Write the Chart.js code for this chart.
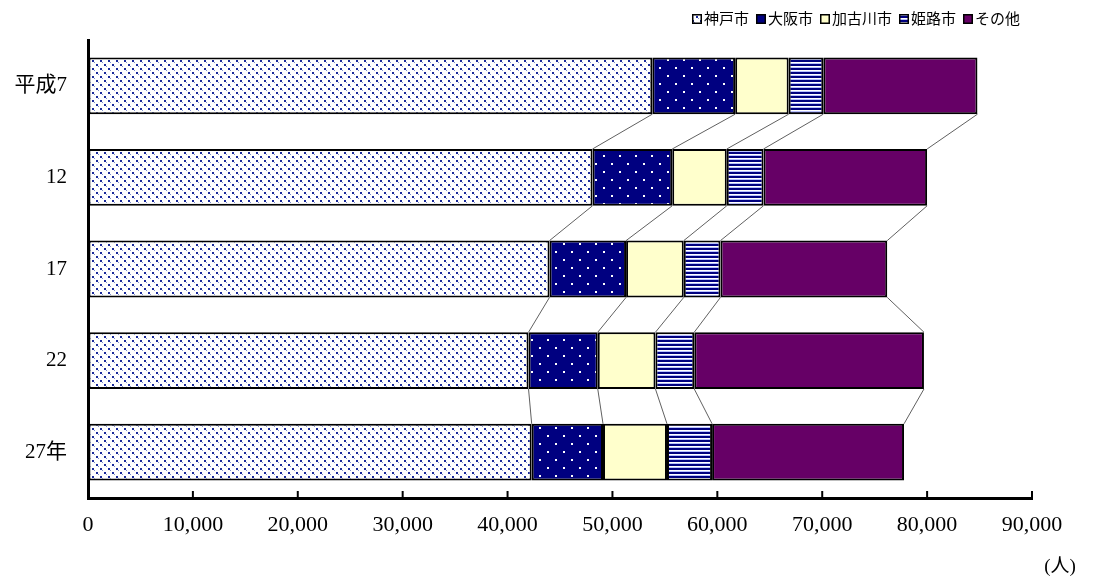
<!DOCTYPE html>
<html>
<head>
<meta charset="utf-8">
<script src="https://cdn.jsdelivr.net/npm/chart.js@4/dist/chart.umd.min.js"></script>
<style>
html,body{margin:0;padding:0;background:#fff;}
#wrap{width:1098px;height:583px;position:relative;}
</style>
</head>
<body>
<div id="wrap"><canvas id="c" width="1098" height="583"></canvas></div>
<script>
const categories = ['平成7', '12', '17', '22', '27年'];
const seriesNames = ['神戸市', '大阪市', '加古川市', '姫路市', 'その他'];
const kobe     = [53800, 48100, 44000, 42000, 42300];
const osaka    = [7900, 7600, 7300, 6600, 6800];
const kakogawa = [5100, 5200, 5500, 5500, 6100];
const himeji   = [3300, 3500, 3500, 3700, 4300];
const other    = [14700, 15600, 15900, 21900, 18300];
const xTicks   = [0, 10000, 20000, 30000, 40000, 50000, 60000, 70000, 80000, 90000];
const unitLabel = '(人)';

const FONT = "'Liberation Serif', 'Noto Sans CJK JP', serif";

function makePattern(w, h, draw) {
  const c = document.createElement('canvas');
  c.width = w; c.height = h;
  const g = c.getContext('2d');
  draw(g, w, h);
  return g.createPattern(c, 'repeat');
}
const patKobe = makePattern(8, 8, (g) => {
  g.fillStyle = '#ffffff'; g.fillRect(0, 0, 8, 8);
  g.fillStyle = '#1a2a9a';
  g.fillRect(0, 0, 2, 2); g.fillRect(4, 4, 2, 2);
  g.fillStyle = '#8090d0';
  g.fillRect(2, 2, 1, 1); g.fillRect(6, 6, 1, 1);
});
const patOsaka = makePattern(16, 16, (g) => {
  g.fillStyle = '#000080'; g.fillRect(0, 0, 16, 16);
  g.fillStyle = '#ffffff';
  g.fillRect(3, 3, 2, 2); g.fillRect(11, 11, 2, 2);
});
const patHimeji = makePattern(4, 4, (g) => {
  g.fillStyle = '#ffffff'; g.fillRect(0, 0, 4, 4);
  g.fillStyle = '#000080'; g.fillRect(0, 0, 4, 2);
  g.fillStyle = '#b8c0ff'; g.fillRect(0, 3, 4, 1);
});
const fills = [patKobe, patOsaka, '#ffffcc', patHimeji, '#660066'];
const seriesData = [kobe, osaka, kakogawa, himeji, other];

const datasets = seriesNames.map((name, i) => ({
  label: name,
  data: seriesData[i],
  backgroundColor: fills[i],
  borderColor: '#000000',
  borderWidth: 2,
  borderSkipped: false,
  barPercentage: 0.62,
  categoryPercentage: 1.0
}));

const extras = {
  id: 'extras',
  beforeDatasetsDraw(chart) {
    const ctx = chart.ctx;
    const xs = chart.scales.x;
    const metas = datasets.map((d, i) => chart.getDatasetMeta(i));
    ctx.save();
    ctx.strokeStyle = '#606060';
    ctx.lineWidth = 1;
    for (let r = 0; r < categories.length - 1; r++) {
      let cumA = 0, cumB = 0;
      for (let s = 0; s < seriesData.length; s++) {
        cumA += seriesData[s][r];
        cumB += seriesData[s][r + 1];
        const elA = metas[s].data[r];
        const elB = metas[s].data[r + 1];
        const yA = elA.y + elA.height / 2;
        const yB = elB.y - elB.height / 2;
        ctx.beginPath();
        ctx.moveTo(xs.getPixelForValue(cumA), yA);
        ctx.lineTo(xs.getPixelForValue(cumB), yB);
        ctx.stroke();
      }
    }
    ctx.restore();
  },
  afterDraw(chart) {
    const ctx = chart.ctx;
    const xs = chart.scales.x;
    const area = chart.chartArea;
    ctx.save();
    ctx.strokeStyle = '#000';
    ctx.lineWidth = 2;
    xs.ticks.forEach((t, i) => {
      if (i === 0) return;
      const px = xs.getPixelForTick(i);
      ctx.beginPath();
      ctx.moveTo(px, area.bottom);
      ctx.lineTo(px, area.bottom - 7);
      ctx.stroke();
    });
    ctx.fillStyle = '#000';
    ctx.font = "19px " + FONT;
    ctx.textAlign = 'center';
    ctx.textBaseline = 'middle';
    ctx.fillText(unitLabel, area.right + 28, 567);
    // legend
    ctx.font = "15px " + FONT;
    const box = 10, gapBT = 2, gapItem = 7;
    const widths = seriesNames.map(n => ctx.measureText(n).width);
    let total = 0;
    widths.forEach((w, i) => { total += box + gapBT + w + (i < widths.length - 1 ? gapItem : 0); });
    let x = 1020 - total;
    const yc = 19;
    ctx.textAlign = 'left';
    seriesNames.forEach((n, i) => {
      ctx.fillStyle = fills[i];
      ctx.fillRect(x, yc - box / 2, box, box);
      ctx.strokeStyle = '#000';
      ctx.lineWidth = 1.5;
      ctx.strokeRect(x + 0.75, yc - box / 2 + 0.75, box - 1.5, box - 1.5);
      ctx.fillStyle = '#000';
      ctx.fillText(n, x + box + gapBT, yc + 1);
      x += box + gapBT + widths[i] + gapItem;
    });
    ctx.restore();
  }
};

new Chart(document.getElementById('c'), {
  type: 'bar',
  data: { labels: categories, datasets },
  options: {
    indexAxis: 'y',
    responsive: false,
    animation: false,
    devicePixelRatio: 1,
    layout: { padding: { top: 40, right: 66, left: 0, bottom: 0 } },
    plugins: {
      legend: { display: false },
      tooltip: { enabled: false }
    },
    scales: {
      x: {
        stacked: true,
        min: 0, max: 90000,
        afterBuildTicks(scale) { scale.ticks = xTicks.map(v => ({ value: v })); },
        afterFit(scale) { scale.height = 85; },
        grid: { display: true, drawOnChartArea: false, drawTicks: false, color: 'rgba(0,0,0,0)' },
        border: { display: true, color: '#000', width: 3 },
        ticks: {
          padding: 14,
          color: '#000',
          font: { family: FONT, size: 22 },
          maxRotation: 0,
          autoSkip: false,
          callback: (v) => Number(v).toLocaleString('en-US')
        }
      },
      y: {
        stacked: true,
        afterFit(scale) { scale.width = 88; },
        grid: { display: true, drawOnChartArea: false, drawTicks: false, color: 'rgba(0,0,0,0)' },
        border: { display: true, color: '#000', width: 3 },
        ticks: {
          padding: 21,
          color: '#000',
          font: { family: FONT, size: 21 }
        }
      }
    }
  },
  plugins: [extras]
});
</script>
</body>
</html>
